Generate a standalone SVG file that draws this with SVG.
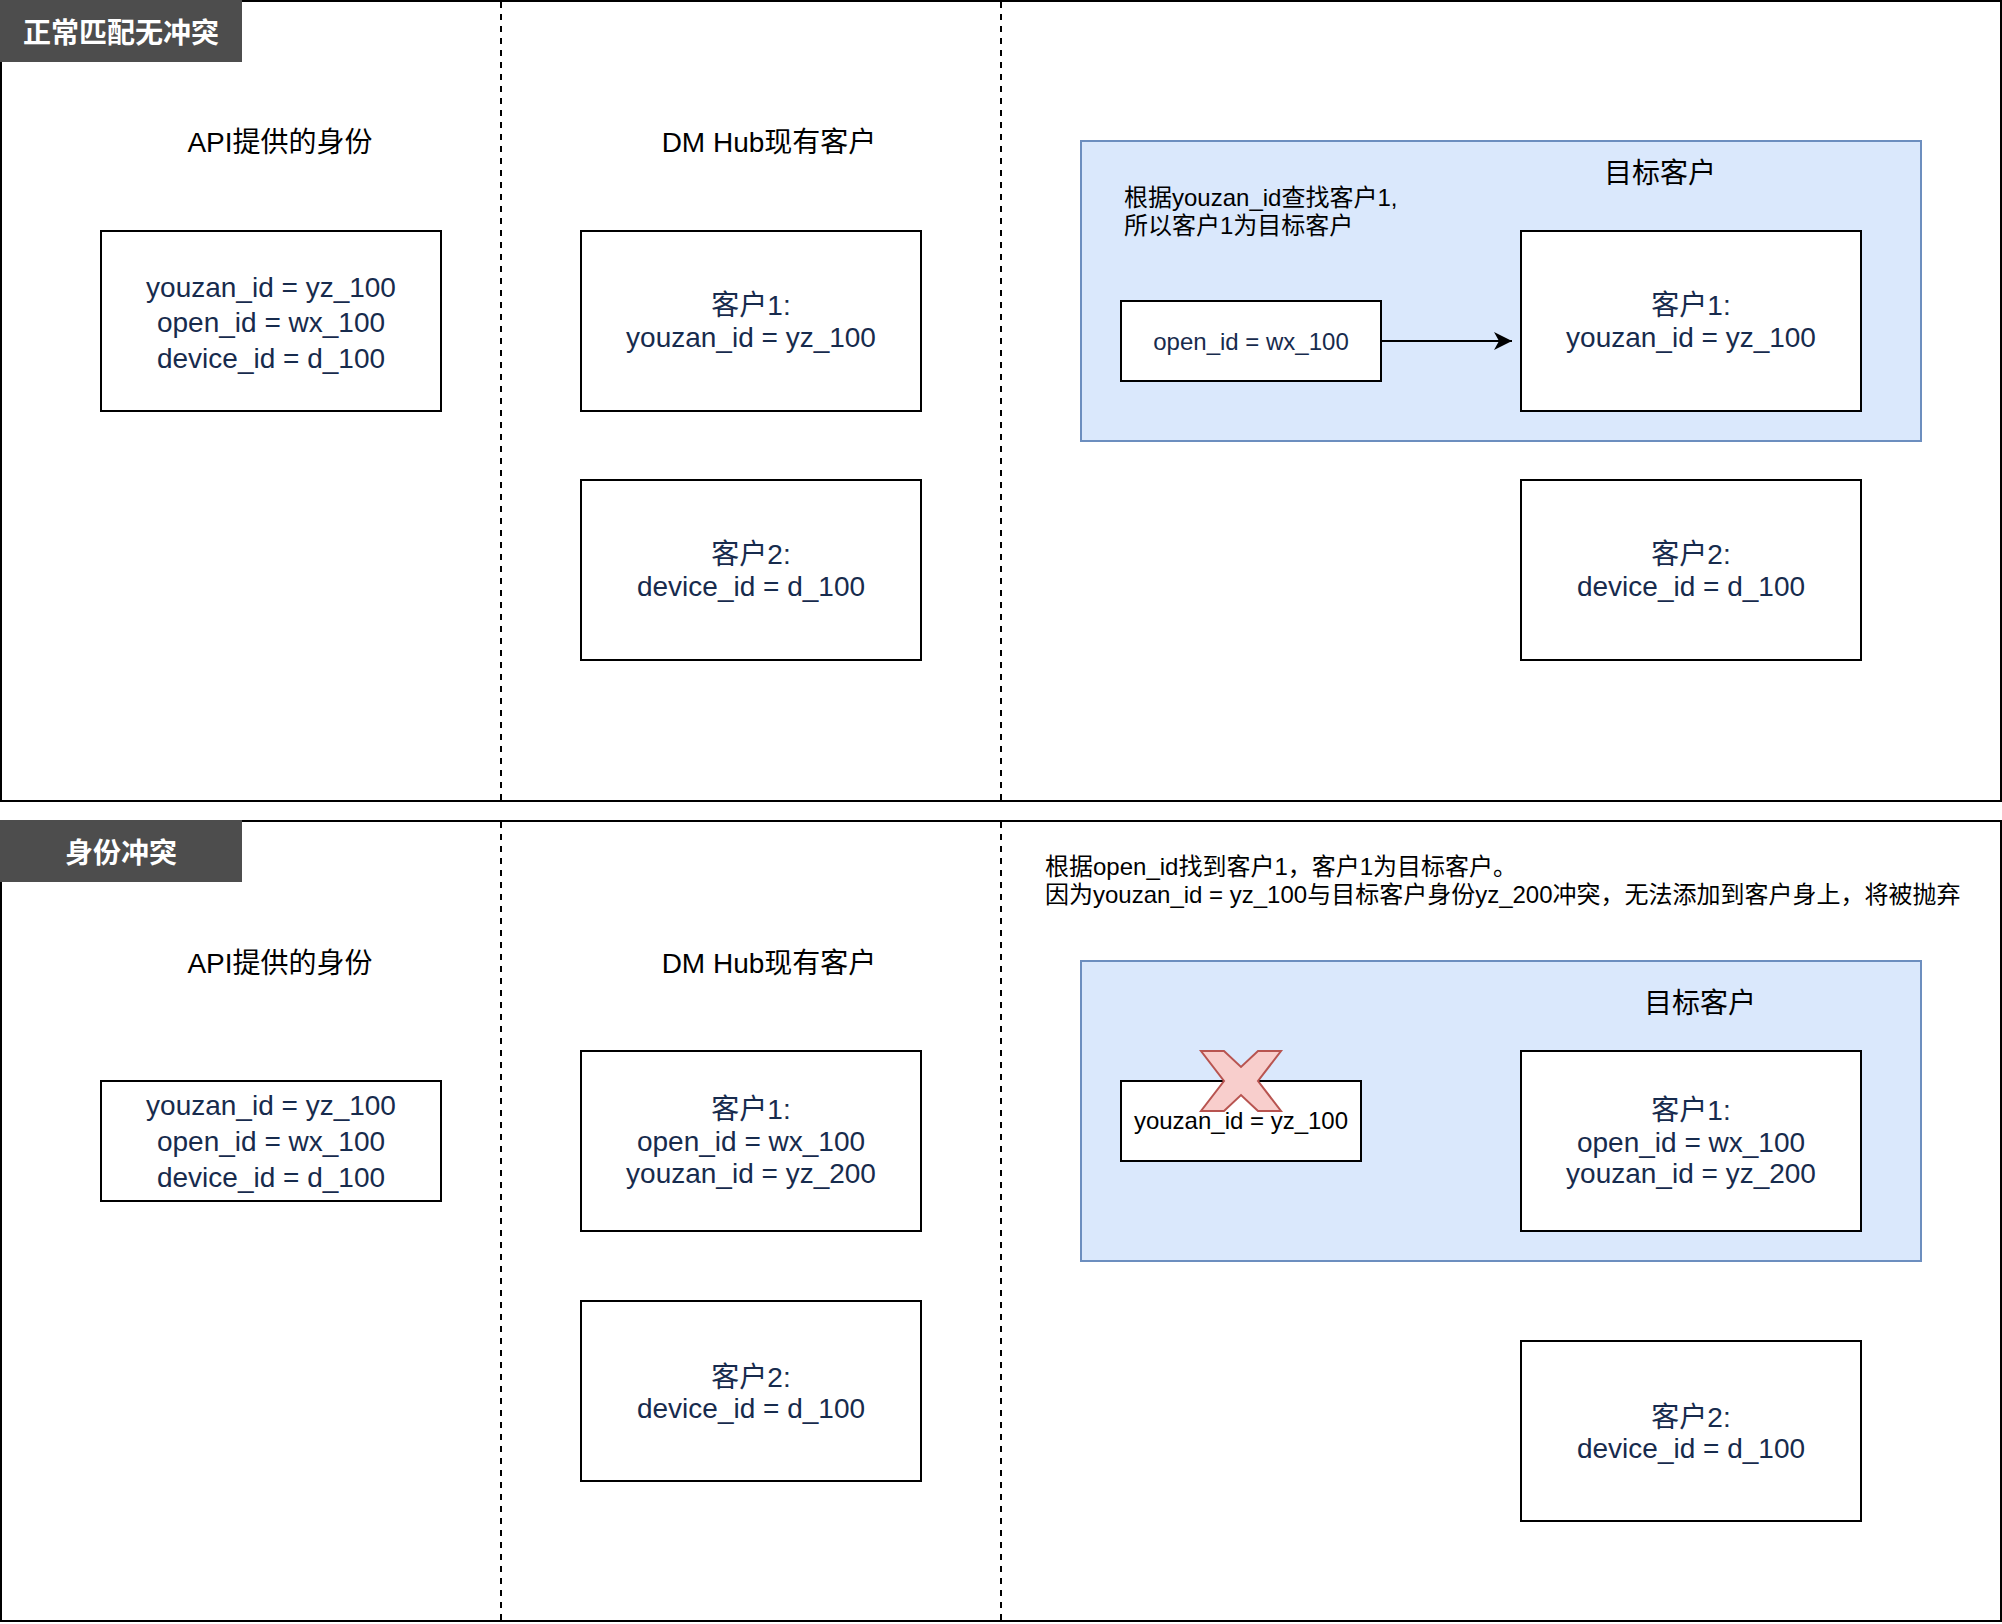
<svg xmlns="http://www.w3.org/2000/svg" width="2002" height="1624" viewBox="0 0 2002 1624">
<style>
  .frame { fill: #ffffff; stroke: #000000; stroke-width: 2; }
  .lbl { fill: #4d4d4d; stroke: none; }
  .lbltxt { font-family: "Liberation Sans", "Noto Sans CJK SC", sans-serif; font-size: 28px; font-weight: bold; fill: #ffffff; text-anchor: middle; }
  .divider { fill: none; stroke: #000000; stroke-width: 2; stroke-dasharray: 6 6; }
  .box { fill: #ffffff; stroke: #000000; stroke-width: 2; }
  .target { fill: #dae8fc; stroke: #6c8ebf; stroke-width: 2; }
  .title { font-family: "Liberation Sans", "Noto Sans CJK SC", sans-serif; font-size: 28px; fill: #000000; text-anchor: middle; }
  .bt { font-family: "Liberation Sans", "Noto Sans CJK SC", sans-serif; font-size: 28px; fill: #172b4d; text-anchor: middle; }
  .st { font-family: "Liberation Sans", "Noto Sans CJK SC", sans-serif; font-size: 24px; text-anchor: middle; }
  .note { font-family: "Liberation Sans", "Noto Sans CJK SC", sans-serif; font-size: 24px; fill: #000000; }
  .edge { fill: none; stroke: #000000; stroke-width: 2; }
  .cross { fill: #f8cecc; stroke: #b85450; stroke-width: 2; stroke-linejoin: miter; }
</style>
<defs>
  <marker id="arrow" markerUnits="userSpaceOnUse" markerWidth="24" markerHeight="24" viewBox="0 0 24 24" refX="20" refY="12" orient="auto">
    <path d="M2,3 L20,12 L2,21 L7,12 Z" fill="#000000" stroke="none"/>
  </marker>
</defs>
<rect x="0" y="0" width="2002" height="1624" fill="#ffffff"/>

<!-- Section 1 frame -->
<g id="section-normal">
  <rect class="frame" x="1" y="1" width="2000" height="800"/>
  <line class="divider" x1="501" y1="2" x2="501" y2="800"/>
  <line class="divider" x1="1001" y1="2" x2="1001" y2="800"/>
  <rect class="lbl" x="0" y="0" width="242" height="62"/>
  <text class="lbltxt" x="121" y="43">正常匹配无冲突</text>
</g>

<!-- Section 2 frame -->
<g id="section-conflict">
  <rect class="frame" x="1" y="821" width="2000" height="800"/>
  <line class="divider" x1="501" y1="822" x2="501" y2="1620"/>
  <line class="divider" x1="1001" y1="822" x2="1001" y2="1620"/>
  <rect class="lbl" x="0" y="820" width="242" height="62"/>
  <text class="lbltxt" x="121" y="863">身份冲突</text>
</g>

<!-- Section 1 content -->
<g id="title-api-1"><text class="title" x="280" y="152">API提供的身份</text></g>
<g id="title-dm-1"><text class="title" x="769" y="152">DM Hub现有客户</text></g>

<g id="api-box-1">
  <rect class="box" x="101" y="231" width="340" height="180"/>
  <text class="bt" x="271" y="297">youzan_id = yz_100</text>
  <text class="bt" x="271" y="332">open_id = wx_100</text>
  <text class="bt" x="271" y="368">device_id = d_100</text>
</g>

<g id="dm-c1-1">
  <rect class="box" x="581" y="231" width="340" height="180"/>
  <text class="bt" x="751" y="315">客户1:</text>
  <text class="bt" x="751" y="347">youzan_id = yz_100</text>
</g>
<g id="dm-c2-1">
  <rect class="box" x="581" y="480" width="340" height="180"/>
  <text class="bt" x="751" y="564">客户2:</text>
  <text class="bt" x="751" y="596">device_id = d_100</text>
</g>

<g id="target-group-1">
  <rect class="target" x="1081" y="141" width="840" height="300"/>
  <text class="title" x="1660" y="183">目标客户</text>
  <text class="note" x="1124" y="206">根据youzan_id查找客户1,</text>
  <text class="note" x="1124" y="234">所以客户1为目标客户</text>
</g>
<g id="lookup-box-1">
  <rect class="box" x="1121" y="301" width="260" height="80"/>
  <text class="st" x="1251" y="350" fill="#172b4d">open_id = wx_100</text>
</g>
<g id="target-c1-1">
  <rect class="box" x="1521" y="231" width="340" height="180"/>
  <text class="bt" x="1691" y="315">客户1:</text>
  <text class="bt" x="1691" y="347">youzan_id = yz_100</text>
</g>
<g id="target-c2-1">
  <rect class="box" x="1521" y="480" width="340" height="180"/>
  <text class="bt" x="1691" y="564">客户2:</text>
  <text class="bt" x="1691" y="596">device_id = d_100</text>
</g>

<!-- Section 2 content -->
<g id="title-api-2"><text class="title" x="280" y="973">API提供的身份</text></g>
<g id="title-dm-2"><text class="title" x="769" y="973">DM Hub现有客户</text></g>

<g id="api-box-2">
  <rect class="box" x="101" y="1081" width="340" height="120"/>
  <text class="bt" x="271" y="1115">youzan_id = yz_100</text>
  <text class="bt" x="271" y="1151">open_id = wx_100</text>
  <text class="bt" x="271" y="1187">device_id = d_100</text>
</g>

<g id="dm-c1-2">
  <rect class="box" x="581" y="1051" width="340" height="180"/>
  <text class="bt" x="751" y="1119">客户1:</text>
  <text class="bt" x="751" y="1151">open_id = wx_100</text>
  <text class="bt" x="751" y="1183">youzan_id = yz_200</text>
</g>
<g id="dm-c2-2">
  <rect class="box" x="581" y="1301" width="340" height="180"/>
  <text class="bt" x="751" y="1387">客户2:</text>
  <text class="bt" x="751" y="1418">device_id = d_100</text>
</g>

<g id="note-2">
  <text class="note" x="1045" y="875">根据open_id找到客户1，客户1为目标客户。</text>
  <text class="note" x="1045" y="903">因为youzan_id = yz_100与目标客户身份yz_200冲突，无法添加到客户身上，将被抛弃</text>
</g>

<g id="target-group-2">
  <rect class="target" x="1081" y="961" width="840" height="300"/>
  <text class="title" x="1700" y="1013">目标客户</text>
</g>
<g id="rejected-box-2">
  <rect class="box" x="1121" y="1081" width="240" height="80"/>
  <text class="st" x="1241" y="1129" fill="#000000">youzan_id = yz_100</text>
</g>
<g id="reject-cross">
  <polygon class="cross" points="1201,1051 1224,1051 1241,1067 1258,1051 1281,1051 1258,1081 1281,1111 1258,1111 1241,1095 1224,1111 1201,1111 1224,1081"/>
</g>
<g id="target-c1-2">
  <rect class="box" x="1521" y="1051" width="340" height="180"/>
  <text class="bt" x="1691" y="1120">客户1:</text>
  <text class="bt" x="1691" y="1152">open_id = wx_100</text>
  <text class="bt" x="1691" y="1183">youzan_id = yz_200</text>
</g>
<g id="target-c2-2">
  <rect class="box" x="1521" y="1341" width="340" height="180"/>
  <text class="bt" x="1691" y="1427">客户2:</text>
  <text class="bt" x="1691" y="1458">device_id = d_100</text>
</g>

<!-- Connectors -->
<g id="connectors">
  <line class="edge" x1="1381" y1="341" x2="1512" y2="341" marker-end="url(#arrow)"/>
</g>
</svg>
